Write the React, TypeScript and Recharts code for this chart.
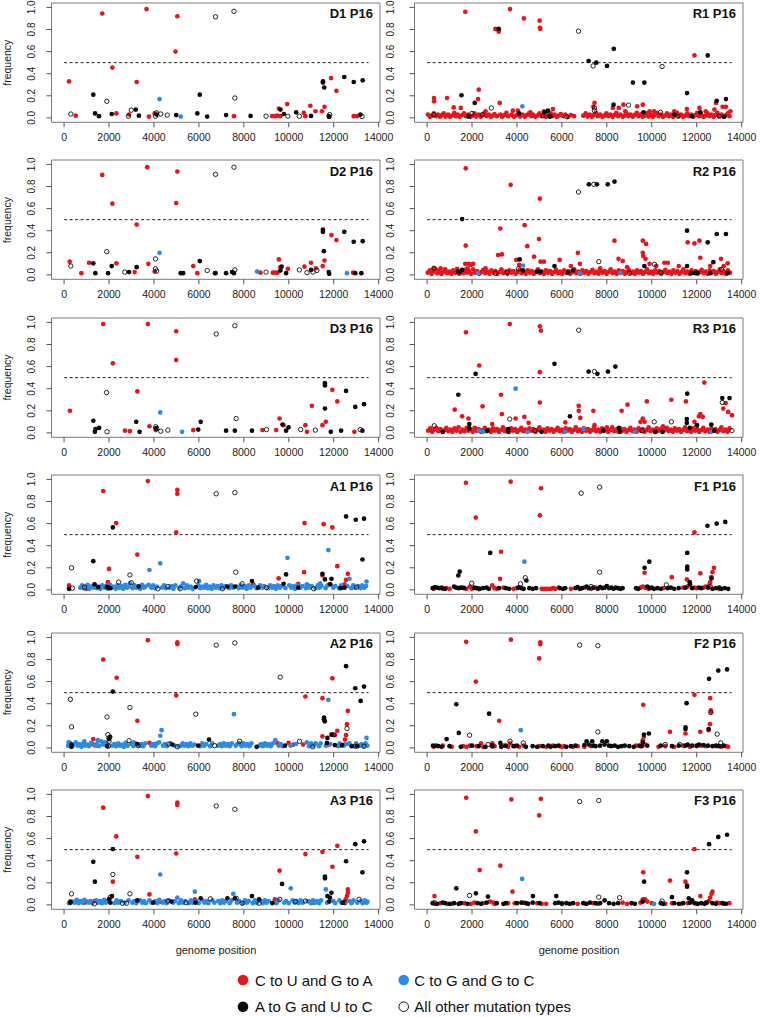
import React from 'react';
import { ScatterChart, Scatter, XAxis, YAxis, ReferenceLine, ReferenceArea } from 'recharts';

type Pt = [number, number];

// ---------- axis ticks ----------
const xTicks = [0, 2000, 4000, 6000, 8000, 10000, 12000, 14000];
const yTicks = [0, 0.2, 0.4, 0.6, 0.8, 1.0];
const legendLabels = ['C to U and G to A', 'C to G and G to C', 'A to G and U to C', 'All other mutation types'];

// ---------- D1 ----------
const d1Red: Pt[] = [[220,.33],[520,.02],[1700,.945],[2150,.455],[2330,.04],[2890,.03],[3230,.325],[3670,.985],[3780,.012],[4030,.04],[4960,.6],[5040,.92],[7560,.015],[9260,.015],[9400,.015],[9480,.02],[9560,.085],[9620,.015],[9930,.125],[10670,.045],[10740,.015],[10960,.11],[11190,.06],[11480,.06],[11590,.1],[11880,.36],[12120,.245],[12890,.015],[13040,.015]];
const d1Black: Pt[] = [[1300,.21],[1380,.04],[1555,.015],[2120,.035],[3190,.075],[3330,.02],[4120,.03],[4990,.025],[5930,.04],[6040,.21],[6370,.012],[7210,.025],[8300,.018],[9630,.075],[9780,.035],[10330,.05],[10990,.018],[11520,.33],[11520,.32],[11580,.275],[11780,.015],[11800,.008],[12470,.37],[12890,.325],[13190,.03],[13290,.34]];
const d1Blue: Pt[] = [[4250,.17],[5190,.012]];
const d1Open: Pt[] = [[300,.035],[1900,.15],[2860,.015],[2990,.07],[4070,.015],[4120,.045],[4300,.035],[4590,.025],[6740,.915],[7560,.965],[7600,.18],[8990,.015],[9960,.015],[10470,.015],[11820,.03],[13260,.012]];

// ---------- R1 ----------
const r1Red: Pt[] = [[1700,.96],[3690,.985],[4310,.9],[5010,.88],[5020,.815],[5040,.805],[3040,.805],[3120,.8],[3190,.78],[310,.18],[310,.15],[890,.18],[1500,.09],[2300,.255],[2270,.17],[3230,.135],[7450,.135],[11900,.565],[8740,.12],[9350,.105],[9600,.12],[8270,.09],[8530,.09],[12790,.075],[12860,.135],[13150,.1],[12120,.09],[5600,.08],[3820,.065],[4040,.065],[1185,.095],[11560,.08],[13300,.1],[13500,.06],[10100,.06],[9900,.06],[7400,.1],[2600,.06],[5200,.06],[4600,.05],[8820,.06],[11000,.06],[12400,.06]];
const r1RedLow: Pt[] = [[40,.03],[130,.01],[220,.02],[300,.04],[400,.015],[480,.03],[570,.01],[660,.025],[740,.04],[830,.012],[930,.03],[1020,.01],[1100,.02],[1210,.045],[1280,.015],[1360,.03],[1450,.01],[1560,.025],[1640,.04],[1730,.015],[1820,.03],[1930,.01],[2020,.02],[2110,.04],[2190,.012],[2280,.03],[2390,.01],[2480,.025],[2560,.045],[2650,.015],[2750,.03],[2840,.01],[2920,.02],[3000,.035],[3110,.015],[3260,.03],[3340,.01],[3440,.025],[3530,.045],[3610,.015],[3760,.03],[3860,.01],[3950,.02],[4060,.035],[4140,.012],[4250,.03],[4350,.01],[4440,.025],[4530,.04],[4640,.015],[4710,.03],[4820,.01],[4900,.02],[5000,.04],[5090,.015],[5180,.03],[5290,.01],[5390,.025],[5500,.04],[5590,.015],[5670,.03],[5770,.01],[5860,.02],[5950,.035],[6060,.015],[6150,.03],[6270,.01],[6400,.025],[6540,.015],[6950,.02],[7060,.04],[7140,.012],[7240,.03],[7330,.01],[7420,.025],[7520,.045],[7600,.015],[7700,.03],[7800,.01],[7880,.02],[7980,.04],[8060,.015],[8150,.03],[8250,.01],[8330,.025],[8420,.045],[8500,.015],[8600,.03],[8700,.01],[8780,.02],[8880,.04],[8960,.015],[9050,.03],[9150,.01],[9230,.025],[9330,.045],[9410,.015],[9500,.03],[9590,.01],[9690,.02],[9770,.04],[9860,.012],[9960,.03],[10050,.01],[10130,.025],[10220,.045],[10310,.015],[10400,.03],[10500,.01],[10580,.02],[10680,.04],[10760,.015],[10850,.03],[10950,.01],[11030,.025],[11130,.045],[11210,.015],[11300,.03],[11400,.01],[11480,.02],[11580,.04],[11660,.015],[11750,.03],[11850,.01],[11930,.025],[12020,.045],[12110,.015],[12200,.03],[12300,.01],[12380,.02],[12480,.04],[12560,.015],[12650,.03],[12750,.01],[12830,.025],[12920,.045],[13010,.015],[13100,.03],[13200,.01],[13280,.02],[13380,.04],[13460,.015]];
const r1Black: Pt[] = [[1530,.205],[1850,.012],[2120,.135],[3190,.805],[4090,.04],[5230,.05],[5380,.065],[5450,.012],[7190,.515],[7530,.5],[8010,.47],[8310,.625],[8300,.12],[9160,.32],[9670,.32],[9630,.05],[11010,.03],[11570,.225],[11780,.015],[12160,.05],[12490,.565],[12890,.155],[13230,.012],[13300,.17]];
const r1Blue: Pt[] = [[4240,.105]];
const r1Open: Pt[] = [[300,.03],[2000,.04],[2460,.03],[2860,.09],[5160,.02],[5480,.015],[6220,.01],[6740,.785],[7390,.47],[7450,.09],[7450,.065],[8960,.115],[10390,.05],[10460,.465],[11160,.015],[13010,.015]];

// ---------- D2 ----------
const d2Red: Pt[] = [[250,.12],[770,.015],[1110,.11],[1700,.905],[2150,.645],[2330,.105],[3140,.025],[3230,.455],[3700,.975],[3750,.1],[4030,.03],[4990,.65],[5040,.935],[5750,.08],[5930,.015],[6710,.015],[8740,.02],[9290,.02],[9400,.02],[9500,.02],[9560,.14],[9630,.07],[9960,.055],[10700,.075],[10990,.11],[11210,.06],[11510,.08],[11590,.13],[11900,.36],[12120,.315],[12860,.02]];
const d2Black: Pt[] = [[1300,.105],[1390,.015],[1960,.015],[2120,.08],[2890,.025],[3230,.07],[5190,.015],[5300,.015],[6040,.125],[6740,.015],[7210,.015],[7480,.025],[7560,.015],[9630,.04],[9680,.075],[9880,.015],[10990,.045],[11520,.41],[11520,.39],[11560,.215],[11780,.025],[11800,.01],[12470,.39],[12890,.3],[12960,.015],[13230,.015],[13290,.305]];
const d2Blue: Pt[] = [[4250,.2],[8590,.03],[12590,.015]];
const d2Open: Pt[] = [[300,.08],[1900,.21],[2700,.025],[4070,.145],[4070,.055],[4120,.035],[6370,.04],[6740,.91],[7560,.975],[7600,.045],[8990,.025],[10470,.045],[10810,.02],[11080,.025],[11250,.04]];

// ---------- R2 ----------
const r2Red: Pt[] = [[1720,.965],[1720,.265],[3720,.815],[5020,.69],[3260,.42],[3160,.18],[3330,.185],[3970,.135],[4340,.45],[4460,.26],[4760,.165],[4980,.325],[5050,.12],[5200,.12],[5900,.135],[6710,.2],[8340,.31],[8520,.145],[8710,.125],[9600,.31],[9750,.28],[9600,.2],[9620,.17],[9720,.145],[11600,.295],[11900,.285],[12120,.31],[12160,.155],[10560,.11],[10710,.11],[13080,.145],[13380,.105],[1700,.1],[1850,.1],[1950,.09],[2050,.1],[1800,.06],[4100,.09],[2600,.06],[6400,.08],[6800,.1],[7700,.06],[9900,.1],[10200,.08],[11200,.08],[12600,.08],[13200,.08],[300,.06],[800,.05],[8900,.07],[600,.06]];
const r2RedLow: Pt[] = [[30,.02],[120,.04],[200,.01],[290,.03],[380,.05],[460,.015],[550,.035],[640,.01],[720,.025],[810,.045],[900,.015],[990,.03],[1080,.01],[1160,.04],[1250,.02],[1340,.055],[1430,.01],[1520,.03],[1610,.015],[1690,.045],[1780,.02],[1870,.035],[1960,.01],[2050,.05],[2140,.02],[2230,.035],[2320,.01],[2410,.025],[2500,.045],[2590,.015],[2680,.03],[2770,.01],[2860,.04],[2950,.02],[3040,.035],[3130,.01],[3220,.025],[3310,.05],[3400,.015],[3490,.03],[3580,.01],[3670,.04],[3760,.02],[3850,.035],[3940,.01],[4030,.025],[4120,.045],[4210,.015],[4300,.03],[4390,.01],[4480,.04],[4570,.02],[4660,.035],[4750,.01],[4840,.025],[4930,.05],[5020,.015],[5110,.03],[5200,.01],[5290,.04],[5380,.02],[5470,.035],[5560,.01],[5650,.025],[5740,.045],[5830,.015],[5920,.03],[6010,.01],[6100,.04],[6190,.02],[6280,.035],[6370,.01],[6460,.025],[6550,.05],[6640,.015],[6730,.03],[6820,.01],[6910,.04],[7000,.02],[7090,.035],[7180,.01],[7270,.025],[7360,.045],[7450,.015],[7540,.03],[7630,.01],[7720,.04],[7810,.02],[7900,.035],[7990,.01],[8080,.025],[8170,.05],[8260,.015],[8350,.03],[8440,.01],[8530,.04],[8620,.02],[8710,.035],[8800,.01],[8890,.025],[8980,.045],[9070,.015],[9160,.03],[9250,.01],[9340,.04],[9430,.02],[9520,.035],[9610,.01],[9700,.025],[9790,.05],[9880,.015],[9970,.03],[10060,.01],[10150,.04],[10240,.02],[10330,.035],[10420,.01],[10510,.025],[10600,.045],[10690,.015],[10780,.03],[10870,.01],[10960,.04],[11050,.02],[11140,.035],[11230,.01],[11320,.025],[11410,.05],[11500,.015],[11590,.03],[11680,.01],[11770,.04],[11860,.02],[11950,.035],[12040,.01],[12130,.025],[12220,.045],[12310,.015],[12400,.03],[12490,.01],[12580,.04],[12670,.02],[12760,.035],[12850,.01],[12940,.025],[13030,.05],[13120,.015],[13210,.03],[13300,.01],[13390,.04],[13480,.02]];
const r2Black: Pt[] = [[1560,.505],[1560,.045],[1450,.025],[1380,.03],[4120,.14],[4270,.04],[4900,.03],[5050,.03],[5670,.08],[6270,.02],[6490,.04],[7200,.82],[7560,.82],[8040,.82],[8340,.845],[9670,.08],[11570,.4],[11570,.08],[11750,.015],[11930,.015],[12040,.02],[12490,.295],[12610,.015],[12740,.115],[12890,.37],[13300,.37],[13380,.015]];
const r2Blue: Pt[] = [[2270,.015],[4270,.085],[6790,.015],[8610,.015]];
const r2Open: Pt[] = [[310,.06],[3040,.015],[3570,.025],[4070,.055],[7420,.82],[7640,.12],[6740,.75],[9010,.015],[10120,.095],[10410,.02],[13100,.05]];

// ---------- D3 ----------
const d3Red: Pt[] = [[260,.2],[1740,.985],[2170,.63],[2710,.02],[2930,.015],[3260,.375],[3730,.985],[3800,.06],[4080,.025],[4990,.92],[4990,.66],[5750,.025],[8830,.025],[9440,.025],[9590,.13],[9770,.07],[10740,.07],[10810,.01],[11030,.245],[11500,.07],[11650,.1],[11940,.39],[12160,.285],[12920,.01]];
const d3Black: Pt[] = [[1300,.11],[1370,.01],[1400,.035],[1560,.045],[3210,.1],[3360,.01],[4080,.04],[5970,.03],[6080,.1],[7210,.02],[7600,.02],[8360,.02],[9720,.075],[9880,.02],[9990,.05],[11610,.45],[11610,.43],[11610,.22],[11870,.01],[12330,.02],[12550,.38],[12960,.235],[13280,.02],[13350,.26]];
const d3Blue: Pt[] = [[4280,.185],[5250,.01]];
const d3Open: Pt[] = [[1910,.01],[1890,.365],[4080,.055],[4120,.04],[4300,.015],[4620,.025],[6770,.895],[7600,.97],[7660,.13],[9010,.03],[10530,.03],[11180,.025],[13180,.03]];

// ---------- R3 ----------
const r3Red: Pt[] = [[1730,.91],[2320,.61],[3290,.345],[3330,.17],[3680,.985],[5020,.965],[5070,.925],[5020,.55],[5020,.275],[1230,.21],[1560,.15],[1840,.13],[2470,.24],[3940,.13],[4330,.145],[4520,.09],[6150,.095],[6750,.245],[6750,.2],[6820,.135],[7400,.2],[7450,.07],[8660,.2],[8920,.255],[9780,.285],[9680,.1],[10870,.3],[11520,.285],[12160,.17],[12270,.145],[12340,.455],[13180,.22],[13290,.27],[13400,.19],[13570,.16],[9500,.1],[9600,.13],[2900,.08],[11900,.1],[12100,.15],[10500,.06],[8000,.05]];
const r3RedLow: Pt[] = [[50,.02],[140,.04],[230,.01],[320,.03],[410,.045],[500,.015],[590,.035],[680,.01],[770,.025],[860,.045],[950,.015],[1040,.03],[1130,.01],[1220,.04],[1310,.02],[1400,.05],[1490,.01],[1580,.03],[1670,.015],[1760,.045],[1850,.02],[1940,.035],[2030,.01],[2120,.045],[2210,.02],[2300,.035],[2390,.01],[2480,.025],[2570,.045],[2660,.015],[2750,.03],[2840,.01],[2930,.04],[3020,.02],[3110,.035],[3200,.01],[3290,.025],[3380,.05],[3470,.015],[3560,.03],[3650,.01],[3740,.04],[3830,.02],[3920,.035],[4010,.01],[4100,.025],[4190,.045],[4280,.015],[4370,.03],[4460,.01],[4550,.04],[4640,.02],[4730,.035],[4820,.01],[4910,.025],[5000,.05],[5090,.015],[5180,.03],[5270,.01],[5360,.04],[5450,.02],[5540,.035],[5630,.01],[5720,.025],[5810,.045],[5900,.015],[5990,.03],[6080,.01],[6170,.04],[6260,.02],[6350,.035],[6440,.01],[6530,.025],[6620,.05],[6710,.015],[6800,.03],[6890,.01],[6980,.04],[7070,.02],[7160,.035],[7250,.01],[7340,.025],[7430,.045],[7520,.015],[7610,.03],[7700,.01],[7790,.04],[7880,.02],[7970,.035],[8060,.01],[8150,.025],[8240,.05],[8330,.015],[8420,.03],[8510,.01],[8600,.04],[8690,.02],[8780,.035],[8870,.01],[8960,.025],[9050,.045],[9140,.015],[9230,.03],[9320,.01],[9410,.04],[9500,.02],[9590,.035],[9680,.01],[9770,.025],[9860,.05],[9950,.015],[10040,.03],[10130,.01],[10220,.04],[10310,.02],[10400,.035],[10490,.01],[10580,.025],[10670,.045],[10760,.015],[10850,.03],[10940,.01],[11030,.04],[11120,.02],[11210,.035],[11300,.01],[11390,.025],[11480,.05],[11570,.015],[11660,.03],[11750,.01],[11840,.04],[11930,.02],[12020,.035],[12110,.01],[12200,.025],[12290,.045],[12380,.015],[12470,.03],[12560,.01],[12650,.04],[12740,.02],[12830,.035],[12920,.01],[13010,.025],[13100,.05],[13190,.015],[13280,.03],[13370,.01],[13460,.04]];
const r3Black: Pt[] = [[1390,.345],[1880,.08],[1880,.04],[2160,.535],[2680,.02],[3610,.035],[3610,.01],[5090,.01],[5670,.625],[6360,.15],[7190,.555],[7580,.535],[8050,.555],[8380,.6],[7840,.02],[8530,.045],[8590,.01],[10170,.01],[10480,.01],[11560,.125],[11560,.09],[11580,.355],[11690,.045],[12010,.07],[12650,.075],[12780,.02],[13140,.315],[13460,.315],[700,.01]];
const r3Blue: Pt[] = [[2320,.02],[2490,.01],[3940,.4],[4480,.01],[6150,.01],[6970,.035],[9240,.01],[12660,.01]];
const r3Open: Pt[] = [[320,.065],[3680,.125],[6750,.93],[7450,.555],[10110,.1],[10870,.1],[13140,.275],[9570,.02],[13570,.02],[4800,.02]];

// ---------- A1 ----------
const a1Red: Pt[] = [[220,.04],[1740,.895],[2000,.19],[1950,.07],[2320,.605],[3260,.32],[3730,.985],[3910,.025],[5040,.905],[5040,.87],[4990,.52],[8420,.05],[9550,.105],[10420,.055],[10680,.16],[10700,.605],[11500,.13],[11550,.595],[11940,.565],[12160,.215],[12630,.145],[12480,.05],[12550,.09],[11800,.05],[900,.015],[1000,.01]];
const a1Black: Pt[] = [[220,.01],[1300,.26],[1350,.05],[1520,.025],[1950,.025],[2060,.015],[2170,.565],[3320,.03],[5860,.025],[7270,.03],[7600,.03],[8360,.08],[8640,.02],[9770,.055],[9880,.14],[10420,.02],[11500,.145],[11610,.095],[11900,.1],[12550,.665],[12480,.02],[12980,.635],[13350,.645],[13280,.275],[11850,.05],[12300,.015]];
const a1Blue: Pt[] = [[3760,.045],[3800,.18],[4280,.24],[9940,.29],[11760,.36],[12700,.1],[13460,.075],[6010,.08],[5300,.06],[2930,.06],[1910,.04],[11400,.06],[10800,.05]];
const a1BlueLow: Pt[] = [[720,.02],[800,.04],[880,.015],[960,.03],[1050,.045],[1130,.01],[1210,.03],[1300,.02],[1380,.045],[1460,.015],[1540,.03],[1620,.01],[1700,.04],[1790,.02],[1870,.035],[1960,.01],[2050,.045],[2130,.02],[2210,.03],[2300,.01],[2380,.04],[2460,.02],[2550,.035],[2630,.01],[2720,.045],[2800,.02],[2880,.03],[3050,.015],[3130,.04],[3210,.02],[3300,.035],[3380,.01],[3470,.045],[3550,.02],[3630,.03],[3880,.02],[3960,.04],[4050,.015],[4130,.03],[4360,.02],[4450,.04],[4530,.015],[4700,.02],[4780,.035],[4870,.01],[4950,.04],[5130,.02],[5220,.035],[5380,.015],[5470,.04],[5550,.02],[5640,.03],[5720,.01],[5980,.04],[6060,.015],[6150,.03],[6230,.02],[6320,.045],[6400,.015],[6480,.03],[6570,.01],[6650,.04],[6740,.02],[6830,.035],[6920,.015],[7000,.04],[7100,.02],[7180,.035],[7350,.015],[7430,.04],[7520,.02],[7700,.03],[7780,.015],[7870,.04],[7960,.02],[8040,.035],[8130,.01],[8220,.04],[8300,.02],[8480,.035],[8560,.015],[8730,.04],[8820,.02],[8900,.035],[9080,.015],[9170,.04],[9250,.02],[9340,.035],[9420,.01],[9510,.04],[9600,.02],[9680,.035],[9850,.015],[10020,.04],[10110,.02],[10190,.035],[10280,.01],[10360,.04],[10520,.02],[10610,.035],[10770,.015],[10860,.04],[10940,.02],[11020,.035],[11200,.015],[11290,.04],[11370,.02],[11460,.035],[11640,.015],[11720,.04],[11980,.02],[12070,.035],[12240,.015],[12330,.04],[12410,.02],[12600,.035],[12780,.015],[12870,.04],[12950,.02],[13100,.035],[13190,.015],[13270,.04],[13360,.02],[13440,.035]];
const a1Open: Pt[] = [[330,.2],[370,.015],[910,.025],[1910,.025],[2430,.07],[2930,.135],[2990,.065],[4170,.01],[4620,.03],[5170,.01],[5900,.08],[6770,.87],[7050,.01],[7600,.88],[7640,.16],[7920,.055],[9010,.02],[11110,.01],[13020,.025]];

// ---------- F1 ----------
const f1Red: Pt[] = [[1730,.97],[2170,.655],[3290,.345],[3250,.1],[3720,.98],[5070,.92],[5020,.675],[9680,.155],[10890,.115],[11560,.095],[12160,.15],[11900,.52],[12600,.07],[12650,.115],[12700,.16],[12770,.2],[12550,.04]];
const f1RedLow: Pt[] = [[300,.01],[700,.01],[850,.015],[1000,.01],[1600,.02],[1750,.01],[1900,.03],[2000,.01],[2900,.04],[3000,.015],[3100,.01],[3400,.02],[3850,.01],[4000,.015],[4100,.02],[5100,.01],[5200,.01],[5300,.01],[5400,.01],[5500,.01],[5600,.015],[5700,.01],[5850,.02],[6400,.01],[7000,.02],[7300,.01],[7500,.02],[9500,.02],[9600,.03],[9700,.02],[9850,.01],[10500,.015],[11400,.02],[11600,.03],[11900,.02],[12000,.015],[12300,.02],[12400,.03],[13000,.01]];
const f1Black: Pt[] = [[1390,.13],[1450,.165],[2810,.335],[4420,.085],[9680,.2],[9890,.255],[11580,.21],[11580,.185],[11580,.335],[11690,.07],[12480,.58],[12890,.6],[13270,.615],[12660,.105],[11700,.05]];
const f1BlackLow: Pt[] = [[250,.015],[350,.025],[450,.02],[550,.015],[650,.02],[800,.01],[1200,.03],[1300,.02],[1400,.015],[1500,.02],[1650,.015],[2100,.02],[2200,.015],[2350,.01],[2500,.015],[2650,.02],[2750,.01],[3200,.015],[3500,.015],[3650,.01],[4050,.02],[4200,.015],[4300,.01],[4550,.015],[4700,.01],[4850,.015],[5900,.015],[6050,.01],[6150,.015],[6600,.015],[6700,.025],[6800,.01],[6900,.015],[7100,.03],[7200,.015],[7400,.02],[7600,.01],[7700,.025],[7800,.015],[7900,.02],[8000,.035],[8100,.015],[8200,.02],[8300,.01],[8400,.02],[8500,.015],[8600,.01],[8700,.015],[9300,.015],[9400,.01],[9800,.03],[9900,.015],[10000,.02],[10100,.01],[10250,.015],[10400,.01],[10700,.015],[10850,.02],[11000,.01],[11200,.015],[11500,.02],[11800,.015],[12100,.02],[12200,.015],[12500,.02],[12700,.01],[12850,.015],[13000,.02],[13100,.01],[13250,.015],[13400,.01]];
const f1Blue: Pt[] = [[4330,.255]];
const f1Open: Pt[] = [[1990,.06],[4160,.055],[4370,.11],[6860,.875],[7680,.93],[7680,.16],[10650,.045],[2300,.01],[7300,.03],[12600,.03]];

// ---------- A2 ----------
const a2Red: Pt[] = [[1300,.03],[1300,.08],[1740,.8],[2340,.635],[3260,.245],[3730,.975],[3800,.045],[5040,.955],[5040,.94],[4990,.475],[9990,.045],[10740,.465],[11500,.45],[11500,.105],[11940,.63],[12160,.155],[12050,.115],[12630,.335],[12590,.215],[12550,.115],[12500,.075],[12480,.03],[10200,.03],[10640,.03],[9500,.04],[1500,.02],[11800,.03],[12300,.02]];
const a2Black: Pt[] = [[330,.03],[330,.01],[1910,.015],[2000,.08],[2050,.1],[2170,.51],[3260,.035],[4820,.03],[5970,.02],[6450,.075],[8570,.01],[9830,.02],[11570,.275],[11570,.26],[11600,.24],[11720,.09],[11700,.045],[11900,.12],[12050,.025],[12550,.74],[12960,.54],[13200,.425],[13350,.555],[12370,.025],[12800,.015],[13050,.015]];
const a2Blue: Pt[] = [[4280,.11],[4340,.16],[4230,.05],[7560,.305],[11760,.435],[13460,.09],[200,.05],[900,.06],[1500,.07],[1650,.06],[1800,.05],[3100,.05],[5200,.02],[7800,.04],[9400,.07],[10800,.05],[11200,.04],[12700,.04]];
const a2BlueLow: Pt[] = [[180,.02],[260,.045],[350,.015],[430,.03],[520,.05],[600,.02],[690,.035],[770,.01],[860,.04],[940,.02],[1030,.03],[1110,.015],[1200,.045],[1380,.02],[1460,.035],[1550,.015],[1720,.03],[1890,.04],[2140,.02],[2230,.035],[2310,.015],[2400,.04],[2490,.02],[2570,.03],[2660,.01],[2740,.045],[2830,.02],[3000,.035],[3090,.015],[3170,.04],[3350,.02],[3440,.035],[3520,.015],[3610,.04],[3880,.02],[3970,.035],[4050,.015],[4140,.04],[4400,.02],[4490,.035],[4570,.015],[4740,.04],[4920,.02],[5100,.015],[5280,.04],[5370,.02],[5450,.035],[5540,.015],[5620,.04],[5710,.02],[5800,.03],[6060,.015],[6150,.04],[6240,.02],[6330,.035],[6500,.015],[6590,.04],[6850,.02],[6940,.035],[7020,.015],[7110,.04],[7200,.02],[7290,.035],[7370,.015],[7460,.04],[7640,.02],[7720,.035],[7900,.015],[7990,.04],[8080,.02],[8160,.035],[8250,.015],[8340,.04],[8680,.02],[8770,.035],[8850,.015],[8940,.04],[9030,.02],[9110,.035],[9200,.015],[9290,.04],[9550,.02],[9640,.035],[9720,.015],[10080,.02],[10320,.035],[10900,.015],[10990,.04],[11080,.02],[11160,.035],[11350,.015],[11420,.04],[11650,.02],[11850,.035],[12180,.015],[12260,.04],[12450,.02],[12620,.035],[12880,.015],[13000,.04],[13150,.02],[13240,.035],[13320,.015],[13420,.04],[13500,.02]];
const a2Open: Pt[] = [[280,.44],[330,.19],[1910,.28],[1950,.12],[2000,.09],[2000,.06],[1970,.015],[2930,.365],[2890,.065],[4670,.035],[5040,.01],[5860,.305],[6770,.93],[7600,.95],[7810,.06],[9620,.64],[10480,.06],[11070,.01],[12000,.12],[12590,.175],[12980,.015],[13350,.015],[3300,.02],[6700,.02]];

// ---------- F2 ----------
const f2Red: Pt[] = [[1740,.96],[2170,.6],[3210,.245],[3730,.98],[5040,.955],[5040,.94],[4990,.81],[9620,.39],[10810,.145],[11500,.13],[11900,.48],[12160,.145],[12600,.45],[12630,.34],[12630,.325],[12590,.215],[12530,.16],[9600,.07],[9650,.1],[2400,.04],[2900,.04],[3700,.04],[1900,.02]];
const f2RedLow: Pt[] = [[300,.01],[700,.02],[1100,.01],[1600,.015],[1750,.01],[2200,.015],[2500,.01],[3000,.015],[3400,.02],[3600,.01],[3900,.015],[4100,.01],[4300,.02],[5000,.015],[5300,.01],[5600,.02],[5900,.015],[6000,.01],[6100,.015],[6500,.01],[6700,.015],[7000,.01],[7300,.015],[9300,.02],[9500,.015],[9700,.03],[10300,.01],[10600,.015],[11000,.01],[11400,.02],[11700,.01],[12000,.015],[12200,.02],[12400,.015],[12900,.015],[13100,.01],[13300,.015],[13400,.01]];
const f2Black: Pt[] = [[260,.02],[870,.08],[1300,.395],[1410,.135],[2760,.31],[3260,.045],[11550,.405],[11500,.185],[11500,.17],[9650,.12],[9870,.13],[12550,.625],[12960,.7],[13350,.71],[12530,.17],[9600,.05],[7100,.06],[7350,.06],[7800,.06],[8000,.06]];
const f2BlackLow: Pt[] = [[400,.02],[500,.015],[650,.01],[1000,.015],[1500,.01],[2000,.02],[2300,.015],[2600,.01],[2900,.02],[3300,.01],[3500,.02],[3850,.015],[4000,.02],[4400,.01],[4700,.015],[4900,.01],[5150,.015],[5400,.02],[5500,.01],[5700,.015],[5850,.02],[6200,.01],[6400,.015],[6600,.02],[7000,.025],[7200,.03],[7400,.02],[7500,.015],[7700,.02],[7900,.03],[8100,.02],[8200,.015],[8350,.02],[8500,.01],[8650,.015],[8800,.02],[9000,.015],[9200,.01],[9450,.02],[9550,.015],[9800,.02],[10400,.02],[10900,.015],[11200,.02],[11500,.02],[11600,.03],[11800,.02],[12000,.02],[12100,.03],[12300,.025],[12500,.02],[12700,.015],[12850,.02],[13000,.015],[13200,.02]];
const f2Blue: Pt[] = [[4170,.16]];
const f2Open: Pt[] = [[1890,.115],[3690,.06],[4280,.045],[6790,.93],[7600,.925],[7600,.145],[12630,.32],[12910,.125],[13070,.045],[2710,.03],[2900,.015],[10600,.03],[11250,.03]];

// ---------- A3 ----------
const a3Red: Pt[] = [[980,.03],[1350,.035],[1740,.88],[2170,.21],[2320,.62],[3260,.435],[3730,.985],[3800,.095],[5040,.925],[5040,.905],[4990,.465],[5820,.05],[9380,.05],[9590,.31],[10740,.46],[11500,.48],[11940,.345],[12160,.535],[12630,.14],[12630,.11],[12590,.08],[12530,.05],[12450,.02],[900,.02],[4300,.03],[10900,.03],[11100,.02]];
const a3Black: Pt[] = [[280,.02],[280,.03],[1300,.39],[1370,.21],[2000,.05],[2060,.02],[2130,.08],[2170,.505],[3260,.04],[3970,.02],[4780,.03],[6080,.06],[7270,.06],[7600,.06],[8360,.08],[8680,.05],[9270,.015],[9700,.19],[11610,.255],[11610,.24],[11720,.08],[11900,.11],[11830,.065],[12550,.395],[12960,.55],[13280,.295],[13350,.575],[11800,.03],[12400,.02],[5850,.02]];
const a3Blue: Pt[] = [[4280,.275],[5040,.065],[5820,.12],[7530,.1],[10090,.15],[11650,.14],[13500,.03]];
const a3BlueLow: Pt[] = [[220,.015],[380,.03],[470,.02],[560,.045],[640,.015],[730,.035],[820,.02],[900,.045],[1080,.02],[1160,.035],[1250,.015],[1430,.04],[1510,.02],[1600,.035],[1690,.015],[1780,.045],[1860,.02],[1950,.035],[2250,.015],[2340,.04],[2430,.02],[2520,.035],[2690,.02],[2870,.04],[3040,.02],[3130,.035],[3210,.015],[3380,.04],[3470,.02],[3560,.035],[3640,.015],[3800,.04],[3890,.02],[4060,.035],[4150,.015],[4230,.045],[4400,.02],[4490,.035],[4570,.015],[4660,.04],[4850,.02],[4930,.035],[5110,.015],[5200,.04],[5290,.02],[5380,.035],[5550,.015],[5640,.04],[5720,.02],[5900,.035],[5990,.015],[6160,.04],[6250,.02],[6340,.035],[6420,.015],[6600,.04],[6690,.02],[6860,.035],[6950,.015],[7030,.04],[7120,.02],[7200,.035],[7370,.015],[7460,.04],[7700,.02],[7790,.035],[7960,.015],[8050,.04],[8140,.02],[8220,.035],[8400,.015],[8490,.04],[8580,.02],[8760,.035],[8850,.015],[8940,.04],[9020,.02],[9110,.035],[9450,.015],[9540,.04],[9800,.02],[9880,.035],[10000,.015],[10170,.04],[10260,.02],[10350,.035],[10440,.015],[10530,.04],[10620,.02],[10830,.035],[10990,.015],[11080,.04],[11170,.02],[11260,.035],[11350,.015],[11440,.04],[11700,.02],[11980,.035],[12070,.015],[12250,.04],[12340,.02],[12700,.035],[12790,.015],[12880,.04],[13050,.02],[13200,.035],[13290,.015],[13380,.04],[13470,.02]];
const a3Open: Pt[] = [[330,.1],[1350,.01],[2170,.275],[2060,.07],[2600,.015],[2780,.015],[2930,.1],[4620,.035],[5430,.02],[6510,.055],[6770,.895],[7600,.865],[7660,.06],[7920,.015],[8680,.015],[10740,.035],[13130,.05],[9600,.05],[10300,.03],[12500,.02]];

// ---------- F3 ----------
const f3Red: Pt[] = [[330,.08],[1740,.97],[2170,.665],[2340,.315],[3260,.355],[3750,.955],[3800,.12],[5060,.96],[4990,.81],[9620,.295],[10810,.22],[11500,.21],[11900,.505],[12160,.08],[12700,.12],[12660,.1],[12600,.065],[12550,.035],[9600,.05],[9700,.05]];
const f3RedLow: Pt[] = [[350,.01],[600,.015],[900,.01],[1100,.01],[1650,.015],[1950,.01],[2100,.02],[2500,.015],[2800,.03],[2950,.02],[3000,.01],[3600,.015],[3900,.015],[4300,.02],[4900,.015],[5100,.01],[5300,.01],[6000,.015],[6700,.01],[7400,.015],[7600,.01],[8700,.02],[8900,.01],[9500,.02],[9800,.03],[10000,.015],[10600,.01],[10900,.015],[11300,.01],[11600,.015],[12000,.01],[12400,.02],[12900,.02],[13000,.015],[13200,.01],[13450,.015]];
const f3Black: Pt[] = [[1300,.15],[2170,.105],[2710,.075],[4710,.08],[5750,.08],[9660,.21],[10900,.07],[11570,.295],[11570,.175],[11570,.165],[11650,.06],[12550,.55],[12960,.615],[13350,.635],[9600,.03],[11800,.04]];
const f3BlackLow: Pt[] = [[250,.015],[450,.01],[700,.02],[800,.015],[1000,.01],[1200,.015],[1400,.01],[1500,.015],[1800,.01],[2250,.015],[2400,.01],[2650,.02],[3100,.015],[3400,.01],[3500,.015],[4000,.015],[4200,.02],[4400,.015],[4500,.01],[4700,.02],[5000,.015],[5700,.015],[5850,.02],[6000,.01],[6200,.015],[6350,.01],[6500,.015],[6950,.015],[7100,.01],[7250,.02],[7500,.015],[7700,.015],[7900,.04],[8100,.015],[8300,.01],[8500,.015],[9100,.015],[9250,.01],[10400,.015],[10500,.01],[11000,.015],[11200,.01],[11400,.015],[11700,.02],[11900,.015],[12050,.01],[12200,.015],[12350,.01],[12450,.02],[12700,.015],[12850,.01],[13150,.015],[13300,.01]];
const f3Blue: Pt[] = [[4230,.235],[7050,.01],[10100,.01]];
const f3Open: Pt[] = [[1890,.085],[6790,.935],[7640,.945],[7640,.07],[8570,.065],[10460,.035],[330,.02]];

// ---------- styling ----------
const RED = '#e8141c';
const BLUE = '#2b8ae6';
const BLACK = '#0a0a0a';
const FONT = "'Liberation Sans', Arial, Helvetica, sans-serif";
const X_DOMAIN: [number, number] = [-560, 14060];
const Y_DOMAIN: [number, number] = [-0.04, 1.04];
const ROW_H = 157.4;

const toObj = (a: Pt[]) => a.map(([x, y]) => ({ x, y }));

const filled = (color: string) => (props: any) => {
  if (props.cx == null || props.cy == null) return <g />;
  return <circle cx={props.cx} cy={props.cy} r={2.35} fill={color} />;
};
const hollow = (props: any) => {
  if (props.cx == null || props.cy == null) return <g />;
  return <circle cx={props.cx} cy={props.cy} r={2.2} fill="none" stroke="#111" strokeWidth={0.9} />;
};

interface PanelDef { title: string; red: Pt[]; blue: Pt[]; black: Pt[]; open: Pt[] }

const panels: PanelDef[] = [
  { title: 'D1 P16', red: d1Red, blue: d1Blue, black: d1Black, open: d1Open },
  { title: 'R1 P16', red: [...r1RedLow, ...r1Red], blue: r1Blue, black: r1Black, open: r1Open },
  { title: 'D2 P16', red: d2Red, blue: d2Blue, black: d2Black, open: d2Open },
  { title: 'R2 P16', red: [...r2RedLow, ...r2Red], blue: r2Blue, black: r2Black, open: r2Open },
  { title: 'D3 P16', red: d3Red, blue: d3Blue, black: d3Black, open: d3Open },
  { title: 'R3 P16', red: [...r3RedLow, ...r3Red], blue: r3Blue, black: r3Black, open: r3Open },
  { title: 'A1 P16', red: a1Red, blue: [...a1BlueLow, ...a1Blue], black: a1Black, open: a1Open },
  { title: 'F1 P16', red: [...f1RedLow, ...f1Red], blue: f1Blue, black: [...f1BlackLow, ...f1Black], open: f1Open },
  { title: 'A2 P16', red: a2Red, blue: [...a2BlueLow, ...a2Blue], black: a2Black, open: a2Open },
  { title: 'F2 P16', red: [...f2RedLow, ...f2Red], blue: f2Blue, black: [...f2BlackLow, ...f2Black], open: f2Open },
  { title: 'A3 P16', red: a3Red, blue: [...a3BlueLow, ...a3Blue], black: a3Black, open: a3Open },
  { title: 'F3 P16', red: [...f3RedLow, ...f3Red], blue: f3Blue, black: [...f3BlackLow, ...f3Black], open: f3Open },
];

function Panel({ def, index }: { def: PanelDef; index: number }) {
  const col = index % 2;
  const row = Math.floor(index / 2);
  const isLeft = col === 0;
  const W = isLeft ? 400 : 381;
  const H = 150;
  const plotL = isLeft ? 51.5 : 33.5;
  const plotR = isLeft ? 380 : 362;
  const plotTop = 3;
  const plotBottom = 122.3;
  const YW = 16;
  const XH = 24;
  const margin = { top: plotTop, right: W - plotR, left: plotL - YW, bottom: H - plotBottom - XH };
  const labelCx = plotL - (isLeft ? 19.5 : 24);
  const YTick = (p: any) => {
    const v = p?.payload?.value;
    return (
      <text x={labelCx} y={p.y} transform={`rotate(-90 ${labelCx} ${p.y})`} textAnchor="middle"
        dominantBaseline="central" fontSize={10} fill="#222" fontFamily={FONT}>
        {Number(v).toFixed(1)}
      </text>
    );
  };
  return (
    <div style={{ position: 'absolute', left: isLeft ? 0 : 381, top: row * ROW_H, width: W, height: H }}>
      <ScatterChart width={W} height={H} margin={margin} style={{ overflow: 'visible' }}>
        <XAxis dataKey="x" type="number" domain={X_DOMAIN} ticks={xTicks} interval={0} allowDataOverflow
          height={XH} axisLine={false} tickLine={{ stroke: '#555' }} tickSize={5} tickMargin={6}
          tick={{ fontSize: 10.5, fill: '#222', fontFamily: FONT }} />
        <YAxis dataKey="y" type="number" domain={Y_DOMAIN} ticks={yTicks} interval={0} allowDataOverflow
          width={YW} axisLine={false} tickLine={{ stroke: '#555' }} tickSize={5} tick={YTick} />
        <ReferenceArea x1={X_DOMAIN[0]} x2={X_DOMAIN[1]} y1={Y_DOMAIN[0]} y2={Y_DOMAIN[1]}
          fill="none" fillOpacity={0} stroke="#7a7a7a" strokeWidth={1} ifOverflow="visible" />
        <ReferenceLine segment={[{ x: 0, y: 0.5 }, { x: 13550, y: 0.5 }]} stroke="#222"
          strokeDasharray="3 2.5" strokeWidth={1} ifOverflow="visible" />
        <Scatter data={toObj(def.red)} fill={RED} shape={filled(RED)} isAnimationActive={false} />
        <Scatter data={toObj(def.blue)} fill={BLUE} shape={filled(BLUE)} isAnimationActive={false} />
        <Scatter data={toObj(def.black)} fill={BLACK} shape={filled(BLACK)} isAnimationActive={false} />
        <Scatter data={toObj(def.open)} fill="none" shape={hollow} isAnimationActive={false} />
      </ScatterChart>
    </div>
  );
}

function Overlay() {
  const rows = [0, 1, 2, 3, 4, 5];
  return (
    <svg width={762} height={1017} style={{ position: 'absolute', left: 0, top: 0, pointerEvents: 'none' }}
      fontFamily={FONT}>
      {panels.map((p, i) => {
        const col = i % 2;
        const row = Math.floor(i / 2);
        const xr = col === 0 ? 373 : 736;
        return (
          <text key={p.title} x={xr} y={row * ROW_H + 18.3} textAnchor="end" fontSize={13}
            fontWeight="bold" fill="#111">{p.title}</text>
        );
      })}
      {rows.map((r) => {
        const cy = r * ROW_H + 62.7;
        return (
          <text key={'f' + r} x={7} y={cy} transform={`rotate(-90 7 ${cy})`} textAnchor="middle"
            dominantBaseline="central" fontSize={10.5} fill="#222">frequency</text>
        );
      })}
      <text x={216} y={954} textAnchor="middle" fontSize={11} fill="#222">genome position</text>
      <text x={579} y={954} textAnchor="middle" fontSize={11} fill="#222">genome position</text>
      <circle cx={243} cy={980} r={5.3} fill={RED} />
      <text x={255} y={985.5} fontSize={15} fill="#111">{legendLabels[0]}</text>
      <circle cx={403.7} cy={980} r={5.3} fill={BLUE} />
      <text x={414.3} y={985.5} fontSize={15} fill="#111">{legendLabels[1]}</text>
      <circle cx={243} cy={1006.7} r={5.3} fill={BLACK} />
      <text x={255} y={1012.2} fontSize={15} fill="#111">{legendLabels[2]}</text>
      <circle cx={403.7} cy={1006.7} r={4.8} fill="none" stroke="#111" strokeWidth={1} />
      <text x={414.3} y={1012.2} fontSize={15} fill="#111">{legendLabels[3]}</text>
    </svg>
  );
}

export default function App() {
  return (
    <div style={{ position: 'absolute', left: 0, top: 0, width: 762, height: 1017, background: '#fff' }}>
      {panels.map((p, i) => <Panel key={p.title} def={p} index={i} />)}
      <Overlay />
    </div>
  );
}
